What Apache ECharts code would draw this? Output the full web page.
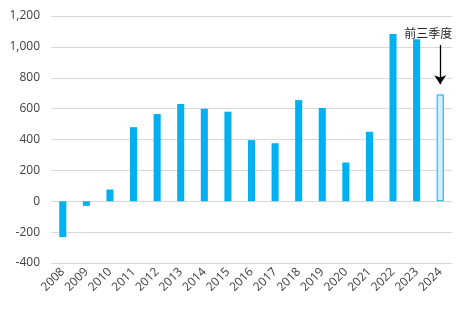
<!DOCTYPE html>
<html><head><meta charset="utf-8">
<script src="https://cdn.jsdelivr.net/npm/echarts@6/dist/echarts.min.js"></script>
<style>html,body{margin:0;padding:0;background:#fff}#c{width:467px;height:311px}</style>
</head><body><div id="c"></div>
<script>
const categories = ['2008','2009','2010','2011','2012','2013','2014','2015','2016','2017','2018','2019','2020','2021','2022','2023','2024'];
const values = [-232, -30, 76, 480, 565, 630, 599, 580, 396, 376, 655, 604, 251, 450, 1084, 1049, 692];
const annotationText = '前三季度';
const font = '"Open Sans", "Noto Sans CJK SC", sans-serif';
const chart = echarts.init(document.getElementById('c'));
chart.setOption({
  animation: false,
  grid: {left: 51, right: 15, top: 16, bottom: 48},
  xAxis: {
    type: 'category', data: categories,
    axisLine: {show: false}, axisTick: {show: false},
    axisLabel: {rotate: 45, color: '#404040', fontSize: 12, fontFamily: font, interval: 0, margin: 7}
  },
  yAxis: {
    type: 'value', min: -400, max: 1200, interval: 200,
    axisLabel: {color: '#404040', fontSize: 12, fontFamily: font, margin: 11,
      formatter: v => v.toLocaleString('en-US')},
    splitLine: {lineStyle: {color: '#d9d9d9', width: 1}}
  },
  series: [{
    type: 'bar', barWidth: '30%',
    data: values.map((v, i) => i === values.length - 1
      ? {value: v, itemStyle: {color: '#d3edfa', borderColor: '#00b0f0', borderWidth: 1}}
      : {value: v, itemStyle: {color: '#00b0f0'}}),
    markLine: {
      silent: true, symbol: ['none', 'arrow'], symbolSize: 9,
      lineStyle: {color: '#000', width: 1.3, type: 'solid'},
      label: {show: false},
      data: [[{coord: ['2024', 1012]}, {coord: ['2024', 758]}]]
    },
    markPoint: {
      silent: true, symbol: 'rect', symbolSize: 0,
      label: {show: true, formatter: annotationText, color: '#262626', fontSize: 12,
        fontFamily: '"Noto Sans CJK SC", sans-serif', offset: [-12, 0]},
      data: [{coord: ['2024', 1088]}]
    }
  }]
});
</script></body></html>
